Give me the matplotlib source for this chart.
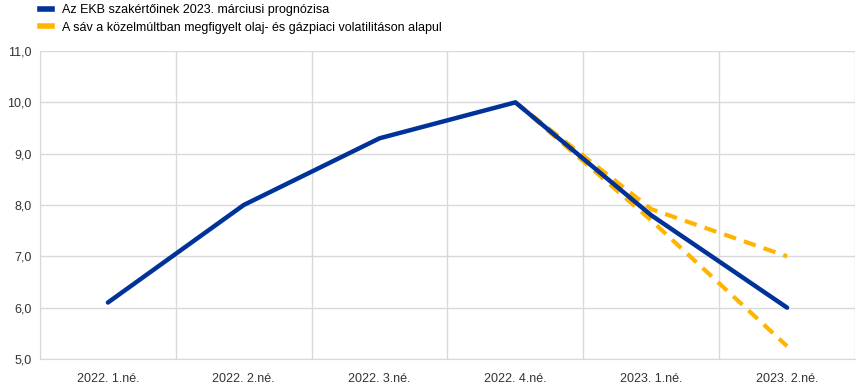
import matplotlib
matplotlib.use("Agg")
import matplotlib.pyplot as plt
import numpy as np

plt.rcParams['font.family'] = ['Liberation Sans', 'DejaVu Sans']

categories = ["2022. 1.né.", "2022. 2.né.", "2022. 3.né.", "2022. 4.né.", "2023. 1.né.", "2023. 2.né."]
projection = [6.1, 8.0, 9.3, 10.0, 7.8, 6.0]
band_upper = [None, None, None, 10.0, 7.92, 7.0]
band_lower = [None, None, None, 10.0, 7.7, 5.25]
yticks = [5.0, 6.0, 7.0, 8.0, 9.0, 10.0, 11.0]

blue = "#003299"
yellow = "#FFB400"
grid = "#d9d9d9"

fig = plt.figure(figsize=(8.62, 3.92), dpi=100)
ax = fig.add_axes([40/862, 33/392, 815/862, 308/392])

x = np.arange(len(categories))
def xs_ys(vals):
    pts = [(i, v) for i, v in enumerate(vals) if v is not None]
    return [p[0] for p in pts], [p[1] for p in pts]

ux, uy = xs_ys(band_upper)
lx, ly = xs_ys(band_lower)
ax.plot(ux, uy, color=yellow, lw=3, linestyle=(0, (3, 2)), zorder=2)
ax.plot(lx, ly, color=yellow, lw=3, linestyle=(0, (3, 2)), zorder=2)
ax.plot(x, projection, color=blue, lw=3.2, zorder=3, solid_capstyle='round')

ax.set_xlim(-0.5, len(categories) - 0.5)
ax.set_ylim(5, 11)
ax.set_yticks(yticks)
ax.set_yticklabels([f"{v:.1f}".replace('.', ',') for v in yticks])
ax.set_xticks(x)
ax.set_xticklabels(categories)
ax.set_xticks(np.arange(-0.5, len(categories)), minor=True)
ax.grid(axis='y', which='major', color=grid, lw=1)
ax.grid(axis='x', which='minor', color=grid, lw=1)
ax.grid(axis='x', which='major', visible=False)
ax.set_axisbelow(True)
for s in ['top', 'right']:
    ax.spines[s].set_visible(False)
for s in ['left', 'bottom']:
    ax.spines[s].set_color(grid)
ax.tick_params(axis='both', which='both', length=0, labelsize=9, colors='#333333')
ax.tick_params(axis='x', pad=10)
ax.tick_params(axis='y', pad=6)

from matplotlib.lines import Line2D
handles = [Line2D([], [], color=blue, lw=4), Line2D([], [], color=yellow, lw=4)]
fig.legend(handles, ["Az EKB szakértőinek 2023. márciusi prognózisa",
                     "A sáv a közelmúltban megfigyelt olaj- és gázpiaci volatilitáson alapul"],
           loc='upper left', bbox_to_anchor=(40/862, 1 - 4/392), frameon=False, fontsize=9,
           handlelength=1.0, handletextpad=0.8, labelspacing=0.45, borderaxespad=0.0,
           borderpad=0.0)

fig.savefig("out.png", dpi=100)
